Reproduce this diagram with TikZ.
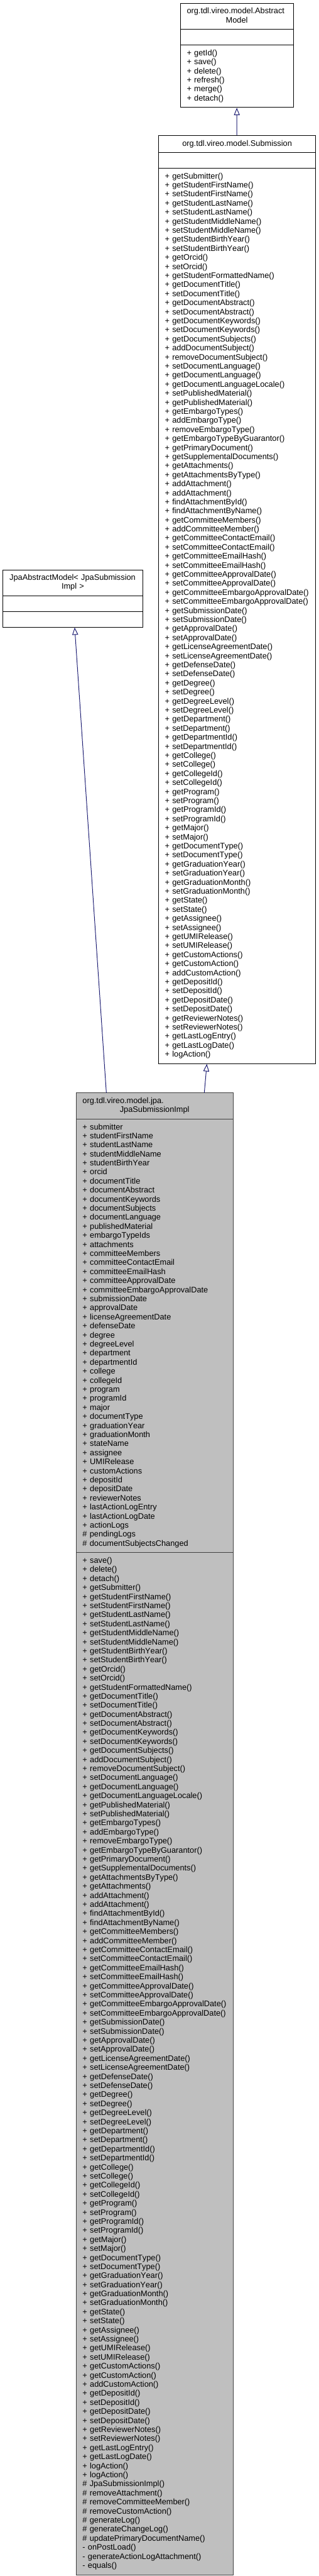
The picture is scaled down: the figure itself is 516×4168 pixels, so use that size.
\documentclass[tikz,border=0pt]{standalone}
\usepackage{fontspec}
\setmainfont{Liberation Sans}[Kerning=Off,Ligatures=NoCommon]
\usetikzlibrary{shapes.multipart,arrows.meta}
\definecolor{edgeblue}{HTML}{191970}
\definecolor{implgray}{HTML}{BFBFBF}
\definecolor{impledge}{HTML}{404040}
\newcommand{\pub}[1]{\strut+ #1}
\newcommand{\pro}[1]{\strut\# #1}
\newcommand{\pri}[1]{\strut- #1}
\newcommand{\emptypart}{\rule{0pt}{12.2pt}}
\begin{document}
\begin{tikzpicture}[x=1pt, y=-1pt,
  umlclass/.style={rectangle split, rectangle split parts=3, draw=black, fill=white,
    line width=1pt, inner xsep=10.5pt, inner ysep=6pt, align=left,
    font=\fontsize{13pt}{14.65pt}\selectfont, anchor=north},
  inherit/.style={draw=edgeblue, line width=1pt, -{Triangle[open, length=12pt, width=9.5pt]}}]
\useasboundingbox (0,0) rectangle (516,4168);

\node[umlclass, text width=162pt] (abstractmodel) at (383.75,5)
  {\strut\makebox[\linewidth][l]{org.tdl.vireo.model.Abstract}\\\makebox[\linewidth][c]{Model}\strut
   \nodepart{second}\emptypart
   \nodepart{third}\pub{getId()}\\\pub{save()}\\\pub{delete()}\\\pub{refresh()}\\\pub{merge()}\\\pub{detach()}};

\node[umlclass, text width=234pt] (submission) at (384.25,219)
  {\strut\makebox[\linewidth][c]{org.tdl.vireo.model.Submission}
   \nodepart{second}\emptypart
   \nodepart{third}\pub{getSubmitter()}\\
   \pub{getStudentFirstName()}\\
   \pub{setStudentFirstName()}\\
   \pub{getStudentLastName()}\\
   \pub{setStudentLastName()}\\
   \pub{getStudentMiddleName()}\\
   \pub{setStudentMiddleName()}\\
   \pub{getStudentBirthYear()}\\
   \pub{setStudentBirthYear()}\\
   \pub{getOrcid()}\\
   \pub{setOrcid()}\\
   \pub{getStudentFormattedName()}\\
   \pub{getDocumentTitle()}\\
   \pub{setDocumentTitle()}\\
   \pub{getDocumentAbstract()}\\
   \pub{setDocumentAbstract()}\\
   \pub{getDocumentKeywords()}\\
   \pub{setDocumentKeywords()}\\
   \pub{getDocumentSubjects()}\\
   \pub{addDocumentSubject()}\\
   \pub{removeDocumentSubject()}\\
   \pub{setDocumentLanguage()}\\
   \pub{getDocumentLanguage()}\\
   \pub{getDocumentLanguageLocale()}\\
   \pub{setPublishedMaterial()}\\
   \pub{getPublishedMaterial()}\\
   \pub{getEmbargoTypes()}\\
   \pub{addEmbargoType()}\\
   \pub{removeEmbargoType()}\\
   \pub{getEmbargoTypeByGuarantor()}\\
   \pub{getPrimaryDocument()}\\
   \pub{getSupplementalDocuments()}\\
   \pub{getAttachments()}\\
   \pub{getAttachmentsByType()}\\
   \pub{addAttachment()}\\
   \pub{addAttachment()}\\
   \pub{findAttachmentById()}\\
   \pub{findAttachmentByName()}\\
   \pub{getCommitteeMembers()}\\
   \pub{addCommitteeMember()}\\
   \pub{getCommitteeContactEmail()}\\
   \pub{setCommitteeContactEmail()}\\
   \pub{getCommitteeEmailHash()}\\
   \pub{setCommitteeEmailHash()}\\
   \pub{getCommitteeApprovalDate()}\\
   \pub{setCommitteeApprovalDate()}\\
   \pub{getCommitteeEmbargoApprovalDate()}\\
   \pub{setCommitteeEmbargoApprovalDate()}\\
   \pub{getSubmissionDate()}\\
   \pub{setSubmissionDate()}\\
   \pub{getApprovalDate()}\\
   \pub{setApprovalDate()}\\
   \pub{getLicenseAgreementDate()}\\
   \pub{setLicenseAgreementDate()}\\
   \pub{getDefenseDate()}\\
   \pub{setDefenseDate()}\\
   \pub{getDegree()}\\
   \pub{setDegree()}\\
   \pub{getDegreeLevel()}\\
   \pub{setDegreeLevel()}\\
   \pub{getDepartment()}\\
   \pub{setDepartment()}\\
   \pub{getDepartmentId()}\\
   \pub{setDepartmentId()}\\
   \pub{getCollege()}\\
   \pub{setCollege()}\\
   \pub{getCollegeId()}\\
   \pub{setCollegeId()}\\
   \pub{getProgram()}\\
   \pub{setProgram()}\\
   \pub{getProgramId()}\\
   \pub{setProgramId()}\\
   \pub{getMajor()}\\
   \pub{setMajor()}\\
   \pub{getDocumentType()}\\
   \pub{setDocumentType()}\\
   \pub{getGraduationYear()}\\
   \pub{setGraduationYear()}\\
   \pub{getGraduationMonth()}\\
   \pub{setGraduationMonth()}\\
   \pub{getState()}\\
   \pub{setState()}\\
   \pub{getAssignee()}\\
   \pub{setAssignee()}\\
   \pub{getUMIRelease()}\\
   \pub{setUMIRelease()}\\
   \pub{getCustomActions()}\\
   \pub{getCustomAction()}\\
   \pub{addCustomAction()}\\
   \pub{getDepositId()}\\
   \pub{setDepositId()}\\
   \pub{getDepositDate()}\\
   \pub{setDepositDate()}\\
   \pub{getReviewerNotes()}\\
   \pub{setReviewerNotes()}\\
   \pub{getLastLogEntry()}\\
   \pub{getLastLogDate()}\\
   \pub{logAction()}};

% template base, same rank as Submission
\node[umlclass, anchor=center, text width=205pt] (jpabase) at (118,968.3)
  {\strut\makebox[\linewidth][l]{JpaAbstractModel< JpaSubmission}\\\makebox[\linewidth][c]{Impl >}\strut
   \nodepart{second}\emptypart
   \nodepart{third}\emptypart};

\node[umlclass, text width=233.5pt, fill=implgray, draw=impledge] (impl) at (250.5,1768)
  {\strut\makebox[\linewidth][l]{org.tdl.vireo.model.jpa.}\\\makebox[\linewidth][c]{JpaSubmissionImpl}\strut
   \nodepart{second}\pub{submitter}\\
   \pub{studentFirstName}\\
   \pub{studentLastName}\\
   \pub{studentMiddleName}\\
   \pub{studentBirthYear}\\
   \pub{orcid}\\
   \pub{documentTitle}\\
   \pub{documentAbstract}\\
   \pub{documentKeywords}\\
   \pub{documentSubjects}\\
   \pub{documentLanguage}\\
   \pub{publishedMaterial}\\
   \pub{embargoTypeIds}\\
   \pub{attachments}\\
   \pub{committeeMembers}\\
   \pub{committeeContactEmail}\\
   \pub{committeeEmailHash}\\
   \pub{committeeApprovalDate}\\
   \pub{committeeEmbargoApprovalDate}\\
   \pub{submissionDate}\\
   \pub{approvalDate}\\
   \pub{licenseAgreementDate}\\
   \pub{defenseDate}\\
   \pub{degree}\\
   \pub{degreeLevel}\\
   \pub{department}\\
   \pub{departmentId}\\
   \pub{college}\\
   \pub{collegeId}\\
   \pub{program}\\
   \pub{programId}\\
   \pub{major}\\
   \pub{documentType}\\
   \pub{graduationYear}\\
   \pub{graduationMonth}\\
   \pub{stateName}\\
   \pub{assignee}\\
   \pub{UMIRelease}\\
   \pub{customActions}\\
   \pub{depositId}\\
   \pub{depositDate}\\
   \pub{reviewerNotes}\\
   \pub{lastActionLogEntry}\\
   \pub{lastActionLogDate}\\
   \pub{actionLogs}\\
   \pro{pendingLogs}\\
   \pro{documentSubjectsChanged}
   \nodepart{third}\pub{save()}\\
   \pub{delete()}\\
   \pub{detach()}\\
   \pub{getSubmitter()}\\
   \pub{getStudentFirstName()}\\
   \pub{setStudentFirstName()}\\
   \pub{getStudentLastName()}\\
   \pub{setStudentLastName()}\\
   \pub{getStudentMiddleName()}\\
   \pub{setStudentMiddleName()}\\
   \pub{getStudentBirthYear()}\\
   \pub{setStudentBirthYear()}\\
   \pub{getOrcid()}\\
   \pub{setOrcid()}\\
   \pub{getStudentFormattedName()}\\
   \pub{getDocumentTitle()}\\
   \pub{setDocumentTitle()}\\
   \pub{getDocumentAbstract()}\\
   \pub{setDocumentAbstract()}\\
   \pub{getDocumentKeywords()}\\
   \pub{setDocumentKeywords()}\\
   \pub{getDocumentSubjects()}\\
   \pub{addDocumentSubject()}\\
   \pub{removeDocumentSubject()}\\
   \pub{setDocumentLanguage()}\\
   \pub{getDocumentLanguage()}\\
   \pub{getDocumentLanguageLocale()}\\
   \pub{getPublishedMaterial()}\\
   \pub{setPublishedMaterial()}\\
   \pub{getEmbargoTypes()}\\
   \pub{addEmbargoType()}\\
   \pub{removeEmbargoType()}\\
   \pub{getEmbargoTypeByGuarantor()}\\
   \pub{getPrimaryDocument()}\\
   \pub{getSupplementalDocuments()}\\
   \pub{getAttachmentsByType()}\\
   \pub{getAttachments()}\\
   \pub{addAttachment()}\\
   \pub{addAttachment()}\\
   \pub{findAttachmentById()}\\
   \pub{findAttachmentByName()}\\
   \pub{getCommitteeMembers()}\\
   \pub{addCommitteeMember()}\\
   \pub{getCommitteeContactEmail()}\\
   \pub{setCommitteeContactEmail()}\\
   \pub{getCommitteeEmailHash()}\\
   \pub{setCommitteeEmailHash()}\\
   \pub{getCommitteeApprovalDate()}\\
   \pub{setCommitteeApprovalDate()}\\
   \pub{getCommitteeEmbargoApprovalDate()}\\
   \pub{setCommitteeEmbargoApprovalDate()}\\
   \pub{getSubmissionDate()}\\
   \pub{setSubmissionDate()}\\
   \pub{getApprovalDate()}\\
   \pub{setApprovalDate()}\\
   \pub{getLicenseAgreementDate()}\\
   \pub{setLicenseAgreementDate()}\\
   \pub{getDefenseDate()}\\
   \pub{setDefenseDate()}\\
   \pub{getDegree()}\\
   \pub{setDegree()}\\
   \pub{getDegreeLevel()}\\
   \pub{setDegreeLevel()}\\
   \pub{getDepartment()}\\
   \pub{setDepartment()}\\
   \pub{getDepartmentId()}\\
   \pub{setDepartmentId()}\\
   \pub{getCollege()}\\
   \pub{setCollege()}\\
   \pub{getCollegeId()}\\
   \pub{setCollegeId()}\\
   \pub{getProgram()}\\
   \pub{setProgram()}\\
   \pub{getProgramId()}\\
   \pub{setProgramId()}\\
   \pub{getMajor()}\\
   \pub{setMajor()}\\
   \pub{getDocumentType()}\\
   \pub{setDocumentType()}\\
   \pub{getGraduationYear()}\\
   \pub{setGraduationYear()}\\
   \pub{getGraduationMonth()}\\
   \pub{setGraduationMonth()}\\
   \pub{getState()}\\
   \pub{setState()}\\
   \pub{getAssignee()}\\
   \pub{setAssignee()}\\
   \pub{getUMIRelease()}\\
   \pub{setUMIRelease()}\\
   \pub{getCustomActions()}\\
   \pub{getCustomAction()}\\
   \pub{addCustomAction()}\\
   \pub{getDepositId()}\\
   \pub{setDepositId()}\\
   \pub{getDepositDate()}\\
   \pub{setDepositDate()}\\
   \pub{getReviewerNotes()}\\
   \pub{setReviewerNotes()}\\
   \pub{getLastLogEntry()}\\
   \pub{getLastLogDate()}\\
   \pub{logAction()}\\
   \pub{logAction()}\\
   \pro{JpaSubmissionImpl()}\\
   \pro{removeAttachment()}\\
   \pro{removeCommitteeMember()}\\
   \pro{removeCustomAction()}\\
   \pro{generateLog()}\\
   \pro{generateChangeLog()}\\
   \pro{updatePrimaryDocumentName()}\\
   \pri{onPostLoad()}\\
   \pri{generateActionLogAttachment()}\\
   \pri{equals()}};

\draw[inherit] (submission) -- (abstractmodel);
\draw[inherit] (impl) -- (submission);
\draw[inherit] (impl) -- (jpabase);
\end{tikzpicture}
\end{document}
